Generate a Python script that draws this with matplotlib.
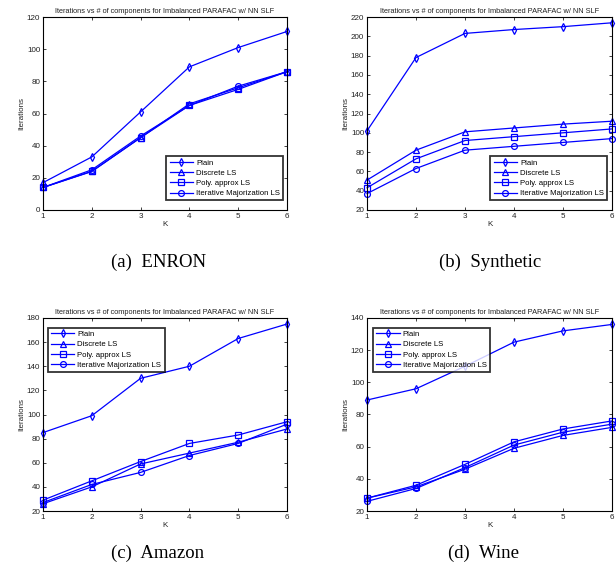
import numpy as np
import matplotlib
matplotlib.use('Agg')
import matplotlib.pyplot as plt

# K values (number of components)
K = [1, 2, 3, 4, 5, 6]

# ENRON
enron_plain = [17, 33, 61, 89, 101, 111]
enron_discrete = [14, 24, 45, 66, 76, 86]
enron_poly = [14, 24, 45, 65, 75, 86]
enron_im = [14, 25, 46, 65, 77, 86]

# Synthetic
synth_plain = [102, 178, 203, 207, 210, 214]
synth_discrete = [51, 82, 101, 105, 109, 112]
synth_poly = [43, 73, 92, 96, 100, 104]
synth_im = [37, 63, 82, 86, 90, 94]

# Amazon
amazon_plain = [85, 99, 130, 140, 163, 175]
amazon_discrete = [26, 40, 59, 68, 77, 88]
amazon_poly = [29, 45, 61, 76, 83, 94]
amazon_im = [27, 42, 52, 66, 76, 92]

# Wine
wine_plain = [89, 96, 110, 125, 132, 136]
wine_discrete = [28, 35, 46, 59, 67, 72]
wine_poly = [28, 36, 49, 63, 71, 76]
wine_im = [26, 34, 47, 61, 69, 74]

labels = ['Plain', 'Discrete LS', 'Poly. approx LS', 'Iterative Majorization LS']
markers = ['d', '^', 's', 'o']
captions = ['(a)  ENRON', '(b)  Synthetic', '(c)  Amazon', '(d)  Wine']
title = 'Iterations vs # of components for Imbalanced PARAFAC w/ NN SLF'

plt.rcParams['font.family'] = ['Liberation Sans', 'DejaVu Sans']

W, H = 616, 577
fig = plt.figure(figsize=(W / 100, H / 100), dpi=100)


def px_axes(x0, y0, x1, y1):
    # pixel box (top-left origin) -> figure fraction
    return fig.add_axes([x0 / W, 1 - y1 / H, (x1 - x0) / W, (y1 - y0) / H])


def panel(ax, series, ylim, legend_loc, legend_anchor):
    for vals, m, lab in zip(series, markers, labels):
        ax.plot(K, vals, color='blue', lw=0.9, marker=m, ms=4.2,
                mfc='none', mec='blue', mew=0.9, label=lab, clip_on=False)
    ax.set_xlim(1, 6)
    ax.set_ylim(*ylim)
    ax.set_xticks(K)
    ax.set_yticks(np.arange(ylim[0], ylim[1] + 1, 20))
    ax.tick_params(direction='in', top=True, right=True, length=2.5, width=0.6,
                   labelsize=5.8, pad=2, colors='#222222')
    for s in ax.spines.values():
        s.set_linewidth(0.8)
    ax.set_title(title, fontsize=5.3, pad=3, color='#222222')
    ax.set_xlabel('K', fontsize=5.8, labelpad=1, color='#222222')
    ax.set_ylabel('Iterations', fontsize=5.8, labelpad=1, color='#222222')
    leg = ax.legend(loc=legend_loc, bbox_to_anchor=legend_anchor, fontsize=5.6,
                    fancybox=False, handlelength=3.0, labelspacing=0.35,
                    borderpad=0.4, handletextpad=0.4, borderaxespad=0)
    leg.get_frame().set_edgecolor('black')
    leg.get_frame().set_linewidth(1.3)
    leg.set_zorder(5)


ax_a = px_axes(43, 17, 287, 210)
panel(ax_a, [enron_plain, enron_discrete, enron_poly, enron_im], (0, 120),
      'lower right', (0.984, 0.05))

ax_b = px_axes(367, 17, 612, 210)
panel(ax_b, [synth_plain, synth_discrete, synth_poly, synth_im], (20, 220),
      'lower right', (0.98, 0.05))

ax_c = px_axes(43, 318, 287, 511)
panel(ax_c, [amazon_plain, amazon_discrete, amazon_poly, amazon_im], (20, 180),
      'upper left', (0.02, 0.95))

ax_d = px_axes(367, 318, 612, 511)
panel(ax_d, [wine_plain, wine_discrete, wine_poly, wine_im], (20, 140),
      'upper left', (0.025, 0.95))

# sub-figure captions
cap_pos = [(159, 262), (490, 262), (158, 553), (483, 553)]
for (cx, cy), c in zip(cap_pos, captions):
    fig.text(cx / W, 1 - cy / H, c, ha='center', va='center',
             fontsize=13.5, family='Liberation Serif')

fig.savefig('out.png', dpi=100)
